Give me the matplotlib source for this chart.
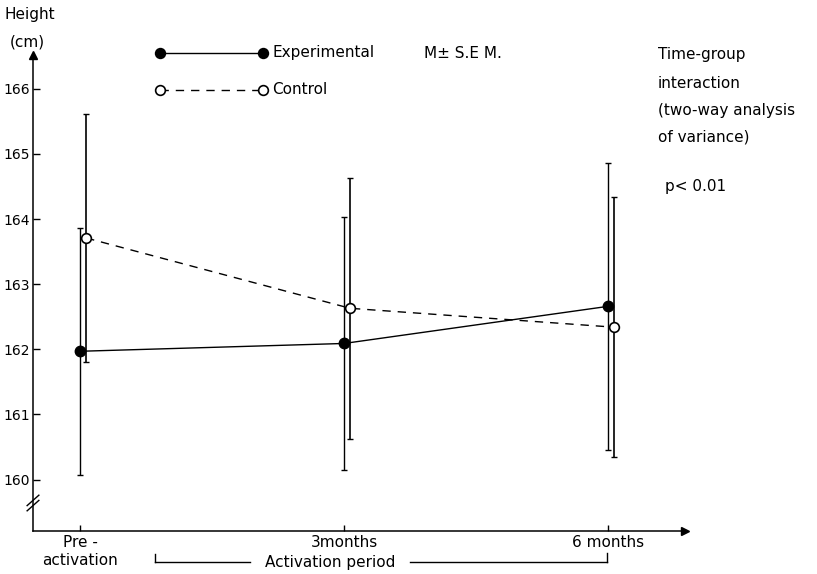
import matplotlib
matplotlib.use("Agg")
import matplotlib.pyplot as plt
from matplotlib.lines import Line2D

# values (height in cm, mean +- S.E.M.)
months = [0, 3, 6]
tick_labels = ['Pre -\nactivation', '3months', '6 months']
exp_mean = [161.97, 162.09, 162.66]
exp_sem = [1.90, 1.94, 2.20]
ctrl_mean = [163.71, 162.63, 162.34]
ctrl_sem = [1.90, 2.00, 2.00]
y_ticks = [160, 161, 162, 163, 164, 165, 166]

W, H = 817, 574
fs = 11


def px(x, y):
    # pixel position (from top-left) -> figure fraction
    return x / W, 1 - y / H


fig = plt.figure(figsize=(W / 100, H / 100), dpi=100)
ax = fig.add_axes([33 / W, 43 / H, (685 - 33) / W, (531 - 55) / H])

ax.set_xlim(-0.534, 6.875)
ax.set_ylim(159.21, 166.52)

for s in ['top', 'right']:
    ax.spines[s].set_visible(False)
for s in ['left', 'bottom']:
    ax.spines[s].set_linewidth(1.1)

# arrow heads on the axes
ax.plot([0], [1], marker='^', color='k', ms=6, transform=ax.transAxes, clip_on=False)
ax.plot([1], [0], marker='>', color='k', ms=6, transform=ax.transAxes, clip_on=False)

# axis break
yt = ax.get_yaxis_transform()
ax.plot([-0.009, 0.009], [159.52, 159.68], color='k', lw=1, transform=yt, clip_on=False)
ax.plot([-0.009, 0.009], [159.60, 159.76], color='k', lw=1, transform=yt, clip_on=False)

ax.set_yticks(y_ticks)
ax.set_yticklabels([str(v) for v in y_ticks], fontsize=10)
ax.tick_params(axis='y', direction='in', length=5, width=1, pad=2)
ax.set_xticks(months)
ax.set_xticklabels(tick_labels, fontsize=fs, linespacing=1.25)
ax.tick_params(axis='x', direction='in', length=4, width=1, pad=3)

off = 0.07
ctrl_x = [m + off for m in months]

ax.errorbar(months, exp_mean, yerr=exp_sem, fmt='none', ecolor='k',
            elinewidth=1, capsize=2.5, capthick=1, zorder=2)
ax.errorbar(ctrl_x, ctrl_mean, yerr=ctrl_sem, fmt='none', ecolor='k',
            elinewidth=1.2, capsize=2.5, capthick=1, zorder=2)
ax.plot(months, exp_mean, color='k', lw=1, marker='o', ms=7.5,
        mfc='k', mec='k', zorder=3)
ax.plot(ctrl_x, ctrl_mean, color='k', lw=1, ls=(0, (6, 5)), marker='o', ms=7,
        mfc='white', mec='k', mew=1.2, zorder=3)

# axis title
fig.text(*px(5, 15), 'Height', fontsize=fs, va='center', ha='left')
fig.text(*px(10, 42), '(cm)', fontsize=fs, va='center', ha='left')

# legend drawn by hand
for (y, face, ls) in [(53, 'k', '-'), (90, 'white', (0, (6, 5)))]:
    x0, y0 = px(160, y)
    x1, _ = px(263, y)
    fig.add_artist(Line2D([x0, x1], [y0, y0], color='k', lw=1, ls=ls,
                          transform=fig.transFigure))
    fig.add_artist(Line2D([x0, x1], [y0, y0], color='k', lw=0, marker='o',
                          ms=7, mfc=face, mec='k', mew=1.2,
                          transform=fig.transFigure))
fig.text(*px(272, 53), 'Experimental', fontsize=fs, va='center')
fig.text(*px(272, 90), 'Control', fontsize=fs, va='center')
fig.text(*px(424, 53), 'M\u00b1 S.E M.', fontsize=fs, va='center')

# annotation on the right
for y, t in [(55, 'Time-group'), (83, 'interaction'),
             (110, '(two-way analysis'), (137, 'of variance)')]:
    fig.text(*px(658, y), t, fontsize=fs, va='center')
fig.text(*px(665, 187), 'p< 0.01', fontsize=fs, va='center')

# activation period bracket
bx0, by0 = px(155, 554)
bx1, by1 = px(155, 562)
fig.add_artist(Line2D([bx0, bx1], [by0, by1], color='k', lw=1, transform=fig.transFigure))
lx, ly = px(250, 562)
fig.add_artist(Line2D([bx1, lx], [by1, ly], color='k', lw=1, transform=fig.transFigure))
rx0, ry0 = px(410, 562)
rx1, _ = px(607, 562)
fig.add_artist(Line2D([rx0, rx1], [ry0, ry0], color='k', lw=1, transform=fig.transFigure))
_, ry2 = px(607, 553)
fig.add_artist(Line2D([rx1, rx1], [ry0, ry2], color='k', lw=1, transform=fig.transFigure))
fig.text(*px(330, 563), 'Activation period', fontsize=fs, va='center', ha='center')

fig.savefig('out.png', dpi=100)
